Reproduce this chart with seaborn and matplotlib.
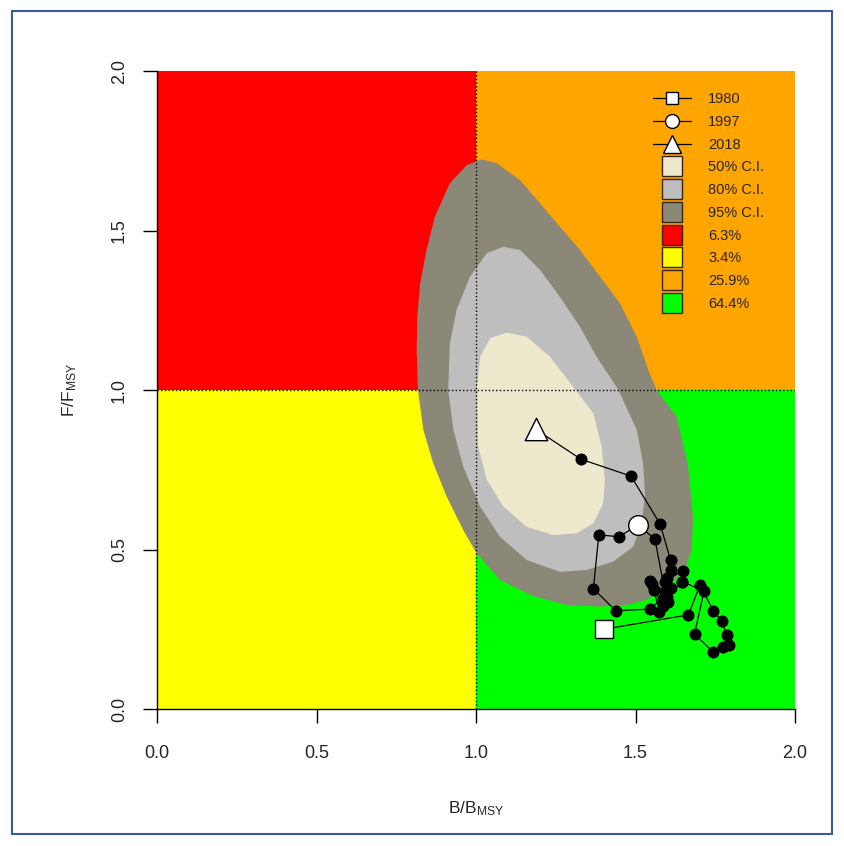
import matplotlib
matplotlib.use("Agg")
import matplotlib.pyplot as plt
import seaborn as sns
import pandas as pd
from matplotlib.lines import Line2D
from matplotlib.patches import Rectangle

sns.set_theme(style="white")
plt.rcParams['font.family'] = ['Liberation Sans', 'DejaVu Sans']
plt.rcParams['mathtext.default'] = 'regular'

# ---------------- data ----------------
years = list(range(1980, 2019))
b_ratio = [1.401, 1.666, 1.702, 1.744, 1.770, 1.786, 1.794, 1.775, 1.744, 1.685,
           1.715, 1.645, 1.545, 1.438, 1.368, 1.385, 1.448, 1.509, 1.561, 1.592,
           1.545, 1.558, 1.575, 1.603, 1.592, 1.648, 1.645, 1.598, 1.552, 1.585,
           1.610, 1.600, 1.585, 1.610, 1.610, 1.577, 1.486, 1.329, 1.187]
f_ratio = [0.250, 0.295, 0.389, 0.308, 0.276, 0.232, 0.201, 0.193, 0.178, 0.235,
           0.371, 0.399, 0.313, 0.308, 0.377, 0.546, 0.540, 0.577, 0.532, 0.368,
           0.402, 0.374, 0.304, 0.336, 0.399, 0.434, 0.399, 0.352, 0.392, 0.322,
           0.380, 0.410, 0.345, 0.436, 0.467, 0.580, 0.730, 0.783, 0.877]

highlight_years = [1980, 1997, 2018]
highlight_markers = ['s', 'o', '^']

# credible-region outlines (B/Bmsy, F/Fmsy)
ci95_b = [1.018, 1.065, 1.138, 1.201, 1.263, 1.326, 1.389, 1.451, 1.504, 1.540,
          1.566, 1.629, 1.665, 1.680, 1.676, 1.655, 1.598, 1.535, 1.472, 1.389,
          1.284, 1.179, 1.075, 1.002, 0.960, 0.908, 0.866, 0.835, 0.818, 0.814,
          0.816, 0.825, 0.845, 0.871, 0.918, 0.971]
ci95_f = [1.723, 1.711, 1.658, 1.585, 1.512, 1.439, 1.355, 1.272, 1.167, 1.063,
          1.000, 0.916, 0.760, 0.603, 0.498, 0.436, 0.383, 0.342, 0.326, 0.321,
          0.326, 0.354, 0.404, 0.488, 0.561, 0.666, 0.770, 0.875, 1.000, 1.125,
          1.230, 1.334, 1.439, 1.543, 1.648, 1.705]
ci80_b = [1.086, 1.138, 1.201, 1.263, 1.326, 1.378, 1.445, 1.504, 1.524, 1.530,
          1.519, 1.493, 1.430, 1.347, 1.263, 1.159, 1.075, 1.013, 0.960, 0.929,
          0.913, 0.918, 0.939, 0.981, 1.034]
ci80_f = [1.449, 1.439, 1.376, 1.292, 1.198, 1.104, 1.003, 0.875, 0.770, 0.666,
          0.582, 0.509, 0.462, 0.436, 0.430, 0.467, 0.540, 0.634, 0.760, 0.875,
          1.000, 1.146, 1.251, 1.355, 1.429]
ci50_b = [1.096, 1.159, 1.232, 1.310, 1.368, 1.394, 1.404, 1.399, 1.368, 1.316,
          1.242, 1.159, 1.086, 1.034, 1.007, 1.003, 1.013, 1.044]
ci50_f = [1.180, 1.167, 1.104, 1.003, 0.927, 0.822, 0.718, 0.645, 0.582, 0.551,
          0.545, 0.571, 0.634, 0.718, 0.822, 1.003, 1.104, 1.162]

ci_labels = ['50% C.I.', '80% C.I.', '95% C.I.']
ci_colors = ['#EEE8CD', '#BEBEBE', '#8B8878']

quad_labels = ['6.3%', '3.4%', '25.9%', '64.4%']
quad_colors = ['#FF0000', '#FFFF00', '#FFA500', '#00FF00']
quad_x0 = [0, 0, 1, 1]
quad_y0 = [1, 0, 1, 0]

ticks = [0.0, 0.5, 1.0, 1.5, 2.0]
tick_labels = ['0.0', '0.5', '1.0', '1.5', '2.0']

df = pd.DataFrame({'year': years, 'B': b_ratio, 'F': f_ratio})

# ---------------- figure ----------------
fig = plt.figure(figsize=(8.44, 8.46), dpi=100)
fig.patch.set_facecolor('white')
fig.patches.append(Rectangle((12 / 844, 1 - 834 / 846), 820 / 844, 823 / 846,
                             transform=fig.transFigure, fill=False,
                             edgecolor='#3A5A99', linewidth=1.5))
ax = fig.add_axes([157 / 844, 1 - 709 / 846, 638 / 844, 638 / 846])

for x0, y0, c in zip(quad_x0, quad_y0, quad_colors):
    ax.add_patch(Rectangle((x0, y0), 1, 1, facecolor=c, edgecolor='none', zorder=0))

ax.fill(ci95_b, ci95_f, color=ci_colors[2], lw=0, zorder=1)
ax.fill(ci80_b, ci80_f, color=ci_colors[1], lw=0, zorder=1.1)
ax.fill(ci50_b, ci50_f, color=ci_colors[0], lw=0, zorder=1.2)

ax.axvline(1, color='black', ls=':', lw=1, zorder=2)
ax.axhline(1, color='black', ls=':', lw=1, zorder=2)

sns.lineplot(data=df, x='B', y='F', sort=False, estimator=None, color='black',
             lw=0.9, ax=ax, zorder=3)
sns.scatterplot(data=df[~df['year'].isin(highlight_years)], x='B', y='F',
                color='black', s=75, edgecolor='black', linewidth=0, ax=ax, zorder=4)
hsize = {1980: 150, 1997: 200, 2018: 260}
for yr, mk in zip(highlight_years, highlight_markers):
    sns.scatterplot(data=df[df['year'] == yr], x='B', y='F', marker=mk,
                    s=hsize[yr], color='white', edgecolor='black', linewidth=1,
                    ax=ax, zorder=5)

ax.set_xlim(0, 2)
ax.set_ylim(0, 2)
ax.set_xticks(ticks)
ax.set_xticklabels(tick_labels, fontsize=13)
ax.set_yticks(ticks)
ax.set_yticklabels(tick_labels, fontsize=13, rotation=90, va='center')
ax.tick_params(axis='both', which='major', direction='out', length=10, width=1,
               color='black', bottom=True, left=True)
ax.tick_params(axis='x', pad=16)
ax.tick_params(axis='y', pad=11)
for side in ['top', 'right']:
    ax.spines[side].set_visible(False)
for side in ['left', 'bottom']:
    ax.spines[side].set_color('black')
    ax.spines[side].set_linewidth(1)
ax.set_xlabel(r'B/B$_{MSY}$', fontsize=12.5, labelpad=27)
ax.set_ylabel(r'F/F$_{MSY}$', fontsize=12.5, labelpad=23)

handles = []
for mk, ms in zip(highlight_markers, [9, 10, 13]):
    handles.append(Line2D([0], [0], color='black', lw=0.9, marker=mk, markersize=ms,
                          markerfacecolor='white', markeredgecolor='black'))
for c in ci_colors + quad_colors:
    handles.append(Line2D([0], [0], linestyle='none', marker='s', markersize=14,
                          markerfacecolor=c, markeredgecolor='#3a2418', markeredgewidth=1))
labels = [str(y) for y in highlight_years] + ci_labels + quad_labels
ax.legend(handles, labels, loc='upper left', bbox_to_anchor=(0.768, 0.976),
          frameon=False, fontsize=10.5, handlelength=2.6, labelspacing=0.6,
          handletextpad=1.2, borderaxespad=0)

fig.savefig('out.png', dpi=100)
